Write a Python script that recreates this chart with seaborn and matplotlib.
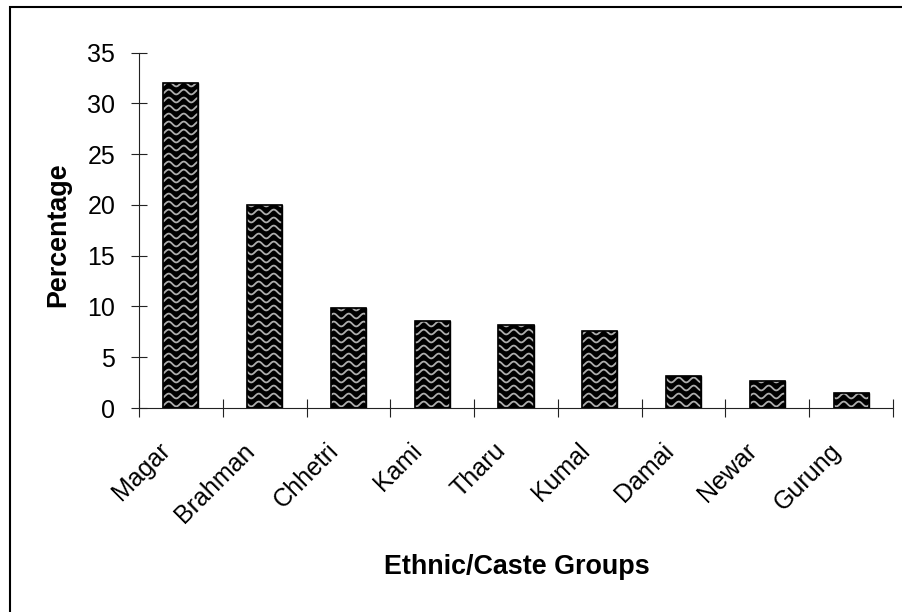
import numpy as np
import pandas as pd
import matplotlib
matplotlib.use("Agg")
import matplotlib.pyplot as plt
import matplotlib.patches as mpatches
import matplotlib.transforms as mtransforms
from matplotlib.collections import LineCollection
import seaborn as sns

# Share of households by ethnic/caste group (%)
groups = ["Magar", "Brahman", "Chhetri", "Kami", "Tharu", "Kumal", "Damai", "Newar", "Gurung"]
percentages = [32.0, 20.0, 9.9, 8.6, 8.2, 7.6, 3.15, 2.7, 1.5]
y_ticks = [0, 5, 10, 15, 20, 25, 30, 35]
x_title = "Ethnic/Caste Groups"
y_title = "Percentage"

sns.set_style("white")
plt.rcParams["font.family"] = ["Liberation Sans", "DejaVu Sans"]
plt.rcParams["text.color"] = "black"
plt.rcParams["xtick.color"] = "black"
plt.rcParams["ytick.color"] = "black"
plt.rcParams["axes.labelcolor"] = "black"

W, H, DPI = 902, 612, 100
fig = plt.figure(figsize=(W / DPI, H / DPI), dpi=DPI)
fig.patch.set_facecolor("white")
ax = fig.add_axes([139 / W, 1 - 408 / H, 754 / W, 355.3 / H])

df = pd.DataFrame({"group": groups, "pct": percentages})
sns.barplot(data=df, x="group", y="pct", color="black", saturation=1,
            width=0.42, edgecolor="black", linewidth=1.0, ax=ax)

# wavy fill texture, drawn in pixel space and clipped to each bar
period, spacing, amp = 15.0, 8.0, 2.4
xs = np.arange(0, W + 1, 0.5)
segs = []
for y0 in np.arange(0, H + spacing, spacing):
    ys = y0 + amp * np.sin(2 * np.pi * xs / period)
    segs.append(np.column_stack([xs, ys]))
for bar in list(ax.patches):
    lc = LineCollection(segs, colors="#adadad", linewidths=1.3,
                        transform=mtransforms.IdentityTransform(), zorder=bar.get_zorder() + 0.1)
    ax.add_collection(lc, autolim=False)
    lc.set_clip_path(mpatches.Rectangle(bar.get_xy(), bar.get_width(), bar.get_height(),
                                        transform=ax.transData))
    # redraw outline above the texture
    outline = mpatches.Rectangle(bar.get_xy(), bar.get_width(), bar.get_height(),
                                 fill=False, edgecolor="black", linewidth=1.2,
                                 zorder=bar.get_zorder() + 0.2)
    ax.add_patch(outline)

ax.set_ylim(0, 35)
ax.set_yticks(y_ticks)
ax.set_xlim(-0.5, len(groups) - 0.5)
ax.set_xticks(np.arange(-0.5, len(groups), 1.0))
ax.set_xticklabels([])
ax.set_xticks(np.arange(len(groups)), minor=True)
ax.set_xticklabels(groups, minor=True, rotation=45, ha="right", va="top", fontsize=18)
ax.set_xlabel("")
ax.set_ylabel("")

ax.tick_params(axis="x", which="major", bottom=True, direction="inout", length=13,
               width=0.8, color="#222222")
ax.tick_params(axis="x", which="minor", bottom=True, length=0, pad=22)
ax.tick_params(axis="y", which="major", left=True, direction="inout", length=12.2, width=0.8,
               color="#222222", labelsize=18, pad=11)
shift = mtransforms.ScaledTranslation(-0.055, 0, fig.dpi_scale_trans)
for lab in ax.get_xticklabels(minor=True):
    lab.set_transform(lab.get_transform() + shift)

for side in ["top", "right"]:
    ax.spines[side].set_visible(False)
for side in ["left", "bottom"]:
    ax.spines[side].set_linewidth(0.8)
    ax.spines[side].set_color("#222222")

fig.text(58 / W, 1 - 234.5 / H, y_title, rotation=90, ha="center", va="center",
         fontsize=19.4, fontweight="bold")
fig.text(517 / W, 1 - 567 / H, x_title, ha="center", va="center",
         fontsize=19.4, fontweight="bold")

# chart-area frame
frame = mpatches.Rectangle((10 / W, -0.05), 1.0, 1 - 7 / H + 0.05, transform=fig.transFigure,
                           fill=False, edgecolor="black", linewidth=1.5, clip_on=False)
fig.add_artist(frame)

fig.savefig("out.png", dpi=DPI, facecolor="white")
